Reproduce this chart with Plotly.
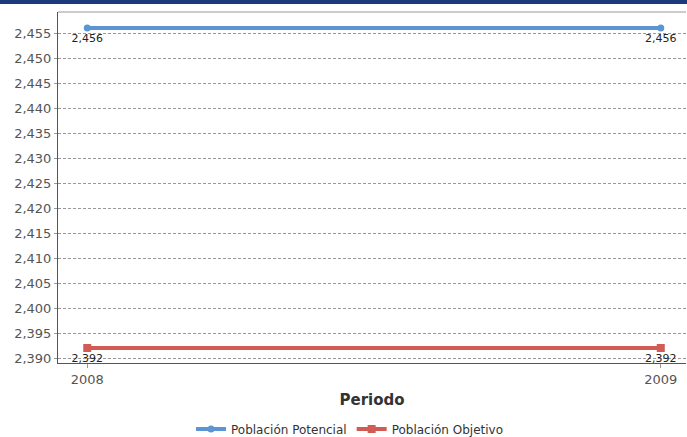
import plotly.graph_objects as go

periods = [2008, 2009]
potencial = [2456, 2456]
objetivo = [2392, 2392]
series_names = ["Población Potencial", "Población Objetivo"]
y_ticks = list(range(2390, 2456, 5))

fig = go.Figure()
fig.add_trace(go.Scatter(
    x=periods, y=potencial, name=series_names[0], mode="lines+markers+text",
    line=dict(color="#5b95d3", width=4), marker=dict(symbol="circle", size=7, color="#5b95d3"),
    text=[f"{v:,}" for v in potencial], textposition="bottom center",
    textfont=dict(family="DejaVu Sans", size=11, color="#222222"), cliponaxis=False,
))
fig.add_trace(go.Scatter(
    x=periods, y=objetivo, name=series_names[1], mode="lines+markers+text",
    line=dict(color="#d15b55", width=4), marker=dict(symbol="square", size=8, color="#d15b55"),
    text=[f"{v:,}" for v in objetivo], textposition="bottom center",
    textfont=dict(family="DejaVu Sans", size=11, color="#222222"), cliponaxis=False,
))

fig.update_layout(
    width=687, height=437,
    margin=dict(l=58, r=1, t=12, b=74, autoexpand=False),
    paper_bgcolor="white", plot_bgcolor="white",
    font=dict(family="DejaVu Sans", color="#555555", size=13),
    showlegend=True,
    legend=dict(orientation="h", x=0.465, xanchor="center", y=-0.188, yanchor="middle",
                font=dict(size=12, color="#333333"), traceorder="normal"),
    xaxis=dict(
        range=[2007.949, 2009.044], tickvals=periods, ticktext=[str(p) for p in periods],
        showgrid=False, showline=True, linecolor="#555555", linewidth=1,
        ticks="outside", ticklen=4, tickcolor="#999999", zeroline=False,
        title=dict(text="<b>Periodo</b>", font=dict(size=15, color="#333333"), standoff=8),
        tickfont=dict(size=13, color="#555555"),
    ),
    yaxis=dict(
        range=[2389, 2459.2], tickvals=y_ticks, ticktext=[f"{v:,}" for v in y_ticks],
        showgrid=True, gridcolor="#999999", griddash="3px,2px", gridwidth=1,
        showline=True, linecolor="#555555", linewidth=1, zeroline=False,
        ticks="outside", ticklen=3, tickcolor="#999999",
        tickfont=dict(size=13, color="#555555"),
    ),
    shapes=[
        dict(type="line", xref="paper", yref="paper", x0=0, x1=1, y0=1, y1=1,
             line=dict(color="#999999", width=1)),
        dict(type="rect", xref="paper", yref="paper", x0=-0.1, x1=1.01,
             y0=1 + 8 / 351, y1=1 + 13 / 351, fillcolor="#1b3a7c", line=dict(width=0)),
    ],
)

fig.write_html(
    "out.html",
    config={"displayModeBar": False},
    post_script="document.body.style.margin='0';document.body.style.overflow='hidden';",
)
